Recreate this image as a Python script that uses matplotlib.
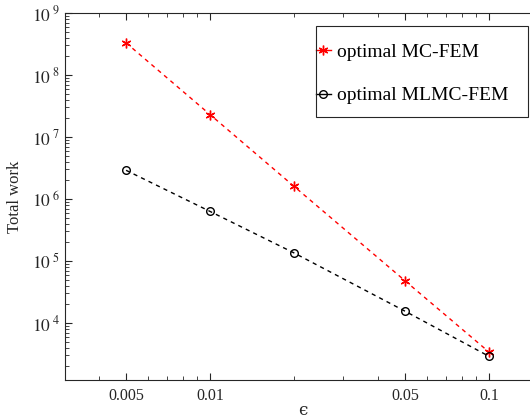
import numpy as np
import matplotlib.pyplot as plt
from matplotlib.patches import Rectangle
from matplotlib.ticker import FixedLocator, NullFormatter, FuncFormatter

plt.rcParams['font.family'] = ['Liberation Serif', 'DejaVu Serif']
plt.rcParams['mathtext.fontset'] = 'stix'

# datos
eps = [0.005, 0.01, 0.02, 0.05, 0.1]
work_mc = [3.3e8, 2.3e7, 1.6e6, 4.8e4, 3.4e3]
work_mlmc = [2.9e6, 6.3e5, 1.35e5, 1.55e4, 2.9e3]
x_ticks = [0.005, 0.01, 0.05, 0.1]
x_tick_labels = ['0.005', '0.01', '0.05', '0.1']

W, H = 530, 420
fig = plt.figure(figsize=(W / 100, H / 100), dpi=100)
left, right, top, bottom = 65, 540, 13, 380
ax = fig.add_axes([left / W, 1 - bottom / H, (right - left) / W, (bottom - top) / H])

ax.plot(eps, work_mc, linestyle='--', dashes=(3, 3), color='red', lw=1,
        marker=(6, 2, 0), markersize=7, mew=1, label='optimal MC-FEM')
ax.plot(eps, work_mlmc, linestyle='--', dashes=(3, 3), color='black', lw=1,
        marker='o', markersize=5.5, mfc='none', mew=1, label='optimal MLMC-FEM')

ax.set_xscale('log')
ax.set_yscale('log')
ax.set_xlim(10 ** -2.52, 10 ** -0.817)
ax.set_ylim(10 ** 3.08, 1e9)

ax.xaxis.set_major_locator(FixedLocator(x_ticks))
ax.set_xticklabels(x_tick_labels)
minors = [0.004, 0.006, 0.007, 0.008, 0.009, 0.02, 0.03, 0.04,
          0.06, 0.07, 0.08, 0.09]
ax.xaxis.set_minor_locator(FixedLocator(minors))
ax.xaxis.set_minor_formatter(NullFormatter())

ax.yaxis.set_major_locator(FixedLocator([1e4, 1e5, 1e6, 1e7, 1e8, 1e9]))
ax.yaxis.set_major_formatter(FuncFormatter(
    lambda v, p: r'$10^{\ %d}$' % int(round(np.log10(v)))))
ax.yaxis.set_minor_locator(FixedLocator(
    [m * 10 ** k for k in range(3, 9) for m in range(2, 10)]))
ax.yaxis.set_minor_formatter(NullFormatter())

gray = '#262626'
for s in ax.spines.values():
    s.set_color(gray)
    s.set_linewidth(0.8)
ax.tick_params(which='both', direction='in', top=True, right=False,
               colors=gray)
ax.tick_params(which='major', length=5)
ax.tick_params(which='minor', length=3)
ax.tick_params(axis='x', pad=6, labelsize=11.5)
ax.tick_params(axis='y', labelsize=12.5)

ax.set_xlabel('\u03f5', fontsize=12, color=gray, labelpad=-2,
              family=['DejaVu Serif'])
ax.set_ylabel('Total work', fontsize=12, color=gray, labelpad=6)

# leyenda sin marco, el marco se dibuja aparte
leg = ax.legend(loc='upper left', bbox_to_anchor=(316 / W, 1 - 43 / H),
                bbox_transform=fig.transFigure, fontsize=14, handlelength=0.75,
                handletextpad=0.35, labelspacing=1.35, borderpad=0,
                borderaxespad=0, frameon=False)
for line in leg.get_lines():
    line.set_linestyle('-')
fig.patches.append(Rectangle((316 / W, 1 - 117 / H), 212 / W, 91 / H,
                             transform=fig.transFigure, fill=False,
                             edgecolor=gray, linewidth=0.8))

fig.savefig('out.png', dpi=100)
